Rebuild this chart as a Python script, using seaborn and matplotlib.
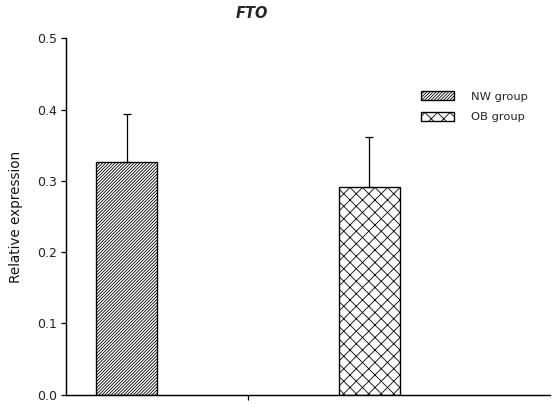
import pandas as pd
import numpy as np
import matplotlib
matplotlib.use('Agg')
import matplotlib.pyplot as plt
import seaborn as sns

# Data
groups = ['NW group', 'OB group']
means = [0.326, 0.292]
errs = [0.068, 0.070]
y_ticks = [0.0, 0.1, 0.2, 0.3, 0.4, 0.5]
hatches = ['////////', 'xx']

df = pd.DataFrame({'group': groups, 'expr': means})

sns.set_style('ticks')
plt.rcParams['font.family'] = ['DejaVu Sans']
plt.rcParams['hatch.linewidth'] = 0.8
plt.rcParams['hatch.color'] = 'black'

# low dpi so the hatch tile matches the reference pattern spacing
fig = plt.figure(figsize=(558 / 75, 404 / 75), dpi=75)
ax = fig.add_axes([0.1183, 0.023, 0.8674, 0.882])

sns.barplot(data=df, x='group', y='expr', hue='group', palette=['white', 'white'],
            width=0.25, edgecolor='black', linewidth=1.3, legend=False, ax=ax)

bars = list(ax.patches)
for bar, h in zip(bars, hatches):
    bar.set_hatch(h)
    bar.set_edgecolor('black')

# upper error bars only
ax.errorbar(x=np.arange(len(groups)), y=means, yerr=[np.zeros(len(errs)), errs],
            fmt='none', ecolor='black', elinewidth=1.2, capsize=4, capthick=1.2, zorder=3)

ax.set_xlim(-0.2504, 1.744)
ax.set_ylim(0, 0.5)
ax.set_yticks(y_ticks)
ax.set_yticklabels([f'{v:.1f}' for v in y_ticks], fontsize=12, color='#222222')
ax.set_xticks([0.5])
ax.set_xticklabels([''])
ax.tick_params(axis='both', length=5, width=1.2, direction='out', pad=4, color='black')
ax.set_xlabel('')
ax.set_ylabel('Relative expression', fontsize=13, color='#111111', labelpad=13)
for side in ['left', 'bottom']:
    ax.spines[side].set_linewidth(1.4)
    ax.spines[side].set_color('black')
sns.despine(ax=ax)

ax.legend(handles=bars, labels=groups, loc='upper left',
          bbox_to_anchor=(421 / 558, 1 - 91 / 404), bbox_transform=fig.transFigure,
          frameon=False, fontsize=11, handlelength=2.9, handleheight=0.85,
          handletextpad=1.5, labelspacing=0.9, borderpad=0, borderaxespad=0)

fig.text(252 / 558, 1 - 14 / 404, 'FTO', fontsize=14, fontweight='bold',
         fontstyle='italic', ha='center', va='center')

fig.savefig('out.png', dpi=75)
